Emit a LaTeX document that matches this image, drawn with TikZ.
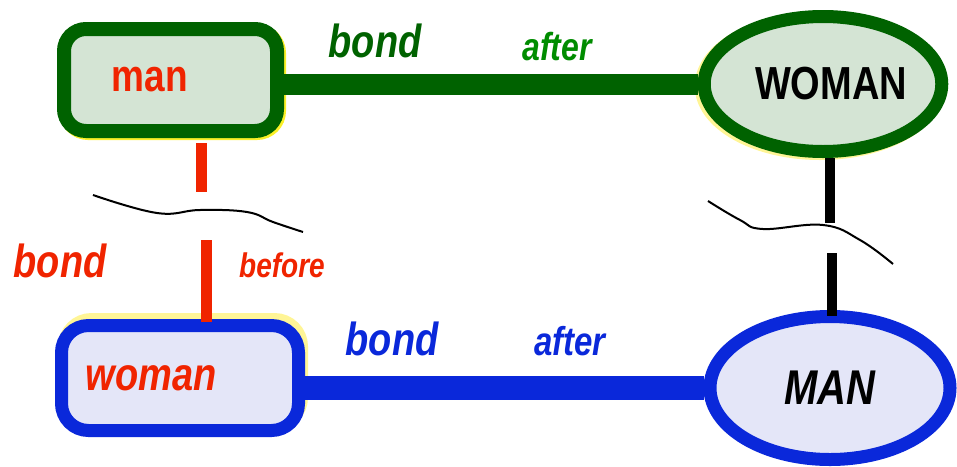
\documentclass[tikz,border=0pt]{standalone}
\usepackage{fontspec}
\setmainfont{Liberation Sans}
\usepackage{graphicx}
\usetikzlibrary{shapes.geometric}
\definecolor{dgreen}{RGB}{0,98,0}
\definecolor{lgreen}{RGB}{0,140,0}
\definecolor{pgreen}{RGB}{212,228,212}
\definecolor{bred}{RGB}{240,36,0}
\definecolor{bblue}{RGB}{10,40,218}
\definecolor{pblue}{RGB}{228,230,248}
\definecolor{ylw}{RGB}{250,240,40}
\definecolor{pylw}{RGB}{255,245,150}
\newcommand{\tall}[1]{\scalebox{1}[1.22]{#1}}

\begin{document}
\begin{tikzpicture}[x=1pt, y=-1pt,
    fs/.style={font=\fontsize{#1}{#1}\selectfont\bfseries},
    fsi/.style={font=\fontsize{#1}{#1}\selectfont\bfseries\itshape},
    gbox/.style={draw=dgreen, fill=pgreen, line width=14pt,
        rounded corners=22pt, inner sep=0pt, minimum width=213pt, minimum height=102pt,
        preaction={draw=ylw, line width=14pt, transform canvas={shift={(2pt,-2pt)}}}},
    bbox/.style={draw=bblue, fill=pblue, line width=13pt, rounded corners=27pt,
        inner sep=0pt, minimum width=237pt, minimum height=105pt,
        preaction={draw=pylw, line width=13pt, transform canvas={shift={(3pt,6pt)}}}},
    gell/.style={ellipse, draw=dgreen, fill=pgreen, line width=13pt, inner sep=0pt,
        minimum width=237pt, minimum height=135pt,
        preaction={draw=pylw, line width=13pt, transform canvas={shift={(-3pt,-2pt)}}}},
    bell/.style={ellipse, draw=bblue, fill=pblue, line width=13pt, inner sep=0pt,
        minimum width=240pt, minimum height=143pt},
    wave/.style={line width=2pt, black}]
    \useasboundingbox (0,0) rectangle (957,466);

    % the four partners
    \node[gbox, fs=37, text=bred] (man) at (170.5,80) {\hspace*{-41pt}\tall{man}};
    \node[gell, fs=38, text=black] (wom) at (823,84) {\hspace*{16pt}\tall{WOMAN}};
    \node[bbox, fsi=38, text=bred] (wb) at (180,378) {\hspace*{-58pt}\tall{woman}};
    \node[bell, fsi=40, text=black] (mn) at (830,388) {\tall{MAN}};

    % bonds after
    \draw[dgreen, line width=21pt] (man.east |- wom.west) -- (wom.west);
    \draw[bblue, line width=24pt] (wb.east |- mn.west) -- (mn.west);

    % bond before, broken
    \coordinate (rt) at (201,192);
    \coordinate (rb) at (206,240);
    \draw[bred, line width=11pt] ([yshift=-5pt]rt |- man.south) -- (rt);
    \draw[bred, line width=11pt] (rb) -- ([yshift=-3pt]rb |- wb.north);
    \coordinate (kt) at (830,223);
    \coordinate (kb) at (832,253);
    \draw[black, line width=10pt] (kt |- wom.south) -- (kt);
    \draw[black, line width=10pt] (kb) -- ([yshift=-6pt]kb |- mn.north);

    % breaks
    \draw[wave] plot[smooth, tension=0.7] coordinates {(93,195) (157,213) (200,210) (247,212) (273,222) (303,232)};
    \draw[wave] plot[smooth, tension=0.7] coordinates {(708,201) (740,220) (763,229) (823,225) (860,240) (893,264)};

    % labels
    \node[fsi=38, text=dgreen, anchor=base] (bg) at (375,57) {\tall{bond}};
    \node[fsi=32, text=lgreen, anchor=base] (ag) at (557,60) {\tall{after}};
    \node[fsi=38, text=bblue, anchor=base] (bbl) at (392,355) {\tall{bond}};
    \node[fsi=33, text=bblue, anchor=base] (abl) at (570,355) {\tall{after}};
    \node[fsi=38, text=bred, anchor=base] (br) at (60,277) {\tall{bond}};
    \node[fsi=28, text=bred, anchor=base] (bfr) at (282,277) {\tall{before}};
\end{tikzpicture}
\end{document}
